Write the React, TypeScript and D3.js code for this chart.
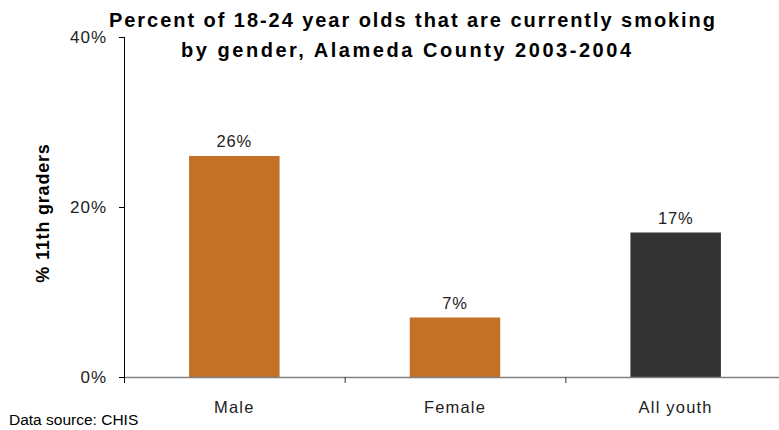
import React from "react";
import * as d3 from "d3";

const categories = ["Male", "Female", "All youth"];
const values = [26, 7, 17];
const labels = ["26%", "7%", "17%"];
const barColors = ["#C47026", "#C47026", "#333333"];
const yTicks = [0, 20, 40];
const titleLines = [
  "Percent of 18-24 year olds that are currently smoking",
  "by gender, Alameda County 2003-2004",
];
const titleWidths = [606, 450];

export default function App() {
  const W = 779, H = 430;
  const left = 124, right = 786, top = 37, bottom = 377;
  const x = d3.scaleBand<string>().domain(categories).range([left, right]).paddingInner(0.59).paddingOuter(0.295);
  const xb = d3.scaleBand<string>().domain(categories).range([left, right]);
  const y = d3.scaleLinear().domain([0, 40]).range([bottom, top]);
  const font = "'Liberation Sans', Arial, sans-serif";
  return (
    <svg width={W} height={H} style={{ position: "absolute", left: 0, top: 0 }} fontFamily={font}>
      <rect width={W} height={H} fill="#fff" />
      {titleLines.map((t, i) => (
        <text key={i} x={i === 0 ? 412 : 406} y={27 + i * 30} textAnchor="middle" fontSize={20} fontWeight="bold" textLength={titleWidths[i]} lengthAdjust="spacing" fill="#000">{t}</text>
      ))}
      {categories.map((c, i) => (
        <g key={c}>
          <rect x={x(c)!} y={y(values[i])} width={x.bandwidth()} height={bottom - y(values[i])} fill={barColors[i]} />
          <text x={x(c)! + x.bandwidth() / 2} y={y(values[i]) - 9} textAnchor="middle" fontSize={16.5} fill="#222" letterSpacing={0.8}>{labels[i]}</text>
          <text x={x(c)! + x.bandwidth() / 2} y={413} textAnchor="middle" fontSize={16.5} fill="#222" letterSpacing={1.2}>{c}</text>
        </g>
      ))}
      <line x1={left} x2={W} y1={bottom + 0.5} y2={bottom + 0.5} stroke="#808080" strokeWidth={1.5} />
      {categories.map((c) => (
        <line key={c} x1={xb(c)! + 0.5} x2={xb(c)! + 0.5} y1={bottom} y2={bottom + 6} stroke="#333" />
      ))}
      <line x1={left + 0.5} x2={left + 0.5} y1={top} y2={bottom + 6} stroke="#000" />
      {yTicks.map((t) => (
        <g key={t}>
          <line x1={left - 5} x2={left} y1={y(t) + 0.5} y2={y(t) + 0.5} stroke="#000" />
          <text x={107} y={y(t) + 6} textAnchor="end" fontSize={17} fill="#222" letterSpacing={1}>{t}%</text>
        </g>
      ))}
      <text transform={`translate(49,213) rotate(-90)`} textAnchor="middle" fontSize={18} fontWeight="bold" letterSpacing={0.8} fill="#000">% 11th graders</text>
      <text x={9} y={425} fontSize={15.5} fill="#000">Data source: CHIS</text>
    </svg>
  );
}
